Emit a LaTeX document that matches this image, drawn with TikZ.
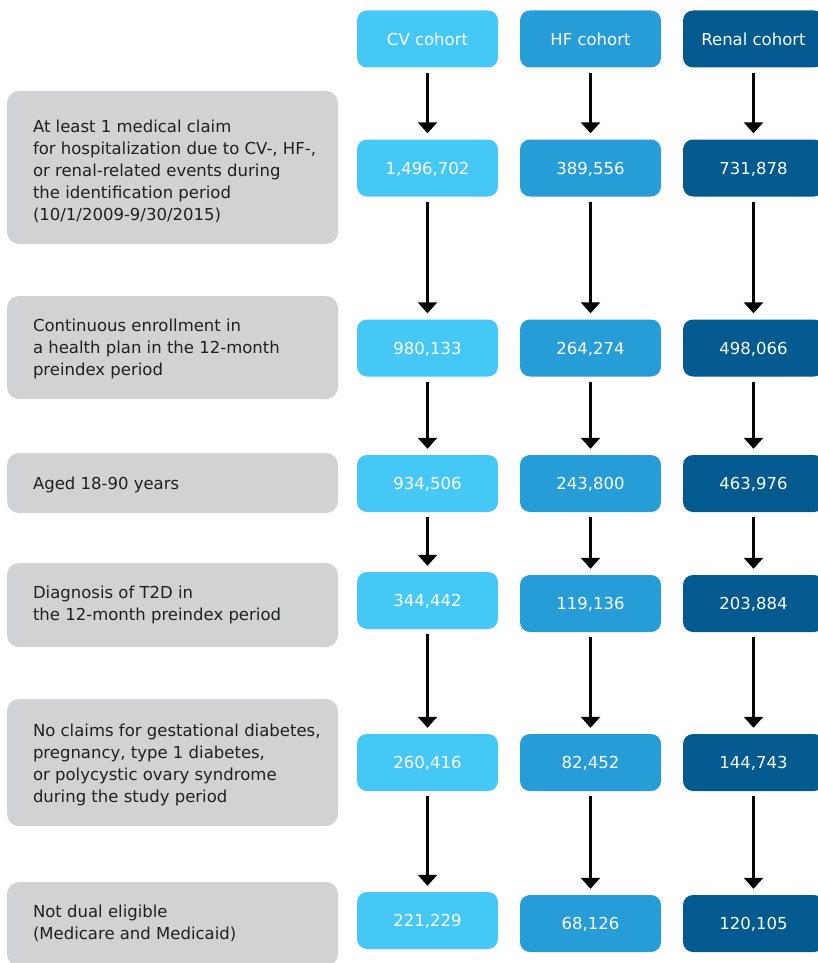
\documentclass[tikz,border=0pt]{standalone}
\usepackage{fontspec}
\setmainfont{DejaVu Sans}
\usetikzlibrary{arrows.meta}

\definecolor{critgray}{RGB}{209,210,212}
\definecolor{darktext}{RGB}{35,31,32}
\definecolor{cvblue}{RGB}{69,200,245}
\definecolor{hfblue}{RGB}{39,157,215}
\definecolor{renalblue}{RGB}{2,90,142}

\begin{document}
\begin{tikzpicture}[x=1pt,y=1pt,yscale=-1,xscale=1,
	crit/.style={fill=critgray, rounded corners=12pt, minimum width=331pt, inner sep=0pt},
	crittext/.style={anchor=west, align=left, inner sep=0pt, text=darktext, font=\fontsize{16.5}{22}\selectfont},
	cohort/.style={rounded corners=10pt, minimum width=141pt, minimum height=57pt, inner sep=0pt, text=white, text height=12.5pt, text depth=0pt, font=\fontsize{16.5}{20}\selectfont},
	flow/.style={line width=3pt, -{Triangle[width=19pt,length=11pt]}, shorten <=5pt, shorten >=6pt}]
	\useasboundingbox (0,0) rectangle (817,963);

	%Shape: Rounded Rect (criteria)
	\node [crit, minimum height=153pt] (crit1) at (172.5,167.5) {};
	\node [crit, minimum height=103pt] (crit2) at (172.5,347.5) {};
	\node [crit, minimum height=60pt] (crit3) at (172.5,483) {};
	\node [crit, minimum height=84pt] (crit4) at (172.5,605) {};
	\node [crit, minimum height=127pt] (crit5) at (172.5,762.5) {};
	\node [crit, minimum height=84pt] (crit6) at (172.5,924) {};

	% Text Node
	\node [crittext] (crit1text) at ([xshift=26pt,yshift=4pt]crit1.west) {At least 1 medical claim\\for hospitalization due to CV-, HF-,\\or renal-related events during\\the identification period\\(10/1/2009-9/30/2015)};
	% Text Node
	\node [crittext] (crit2text) at ([xshift=26pt,yshift=1pt]crit2.west) {Continuous enrollment in\\a health plan in the 12-month\\preindex period};
	% Text Node
	\node [crittext] (crit3text) at ([xshift=26pt,yshift=2pt]crit3.west) {Aged 18-90 years};
	% Text Node
	\node [crittext] (crit4text) at ([xshift=26pt]crit4.west) {Diagnosis of T2D in\\the 12-month preindex period};
	% Text Node
	\node [crittext] (crit5text) at ([xshift=26pt,yshift=2pt]crit5.west) {No claims for gestational diabetes,\\pregnancy, type 1 diabetes,\\or polycystic ovary syndrome\\during the study period};
	% Text Node
	\node [crittext] (crit6text) at ([xshift=26pt,yshift=-0.5pt]crit6.west) {Not dual eligible\\(Medicare and Medicaid)};

	%Shape: Rounded Rect (CV cohort)
	\node [cohort, fill=cvblue] (cv0) at (427.5,39) {CV cohort};
	\node [cohort, fill=cvblue] (cv1) at (427.5,168) {1,496,702};
	\node [cohort, fill=cvblue] (cv2) at (427.5,348) {980,133};
	\node [cohort, fill=cvblue] (cv3) at (427.5,483.5) {934,506};
	\node [cohort, fill=cvblue] (cv4) at (427.5,600.5) {344,442};
	\node [cohort, fill=cvblue] (cv5) at (427.5,762.5) {260,416};
	\node [cohort, fill=cvblue] (cv6) at (427.5,920.5) {221,229};

	%Shape: Rounded Rect (HF cohort)
	\node [cohort, fill=hfblue] (hf0) at (590.5,39) {HF cohort};
	\node [cohort, fill=hfblue] (hf1) at (590.5,168) {389,556};
	\node [cohort, fill=hfblue] (hf2) at (590.5,348) {264,274};
	\node [cohort, fill=hfblue] (hf3) at (590.5,483.5) {243,800};
	\node [cohort, fill=hfblue] (hf4) at (590.5,603.5) {119,136};
	\node [cohort, fill=hfblue] (hf5) at (590.5,762.5) {82,452};
	\node [cohort, fill=hfblue] (hf6) at (590.5,923.5) {68,126};

	%Shape: Rounded Rect (Renal cohort)
	\node [cohort, fill=renalblue] (rn0) at (753.5,39) {Renal cohort};
	\node [cohort, fill=renalblue] (rn1) at (753.5,168) {731,878};
	\node [cohort, fill=renalblue] (rn2) at (753.5,348) {498,066};
	\node [cohort, fill=renalblue] (rn3) at (753.5,483.5) {463,976};
	\node [cohort, fill=renalblue] (rn4) at (753.5,603.5) {203,884};
	\node [cohort, fill=renalblue] (rn5) at (753.5,762.5) {144,743};
	\node [cohort, fill=renalblue] (rn6) at (753.5,923.5) {120,105};

	%Straight Lines (arrows)
	\draw [flow] (cv0) -- (cv1);
	\draw [flow] (cv1) -- (cv2);
	\draw [flow] (cv2) -- (cv3);
	\draw [flow] (cv3) -- (cv4);
	\draw [flow] (cv4) -- (cv5);
	\draw [flow] (cv5) -- (cv6);
	\draw [flow] (hf0) -- (hf1);
	\draw [flow] (hf1) -- (hf2);
	\draw [flow] (hf2) -- (hf3);
	\draw [flow] (hf3) -- (hf4);
	\draw [flow] (hf4) -- (hf5);
	\draw [flow] (hf5) -- (hf6);
	\draw [flow] (rn0) -- (rn1);
	\draw [flow] (rn1) -- (rn2);
	\draw [flow] (rn2) -- (rn3);
	\draw [flow] (rn3) -- (rn4);
	\draw [flow] (rn4) -- (rn5);
	\draw [flow] (rn5) -- (rn6);

\end{tikzpicture}
\end{document}
